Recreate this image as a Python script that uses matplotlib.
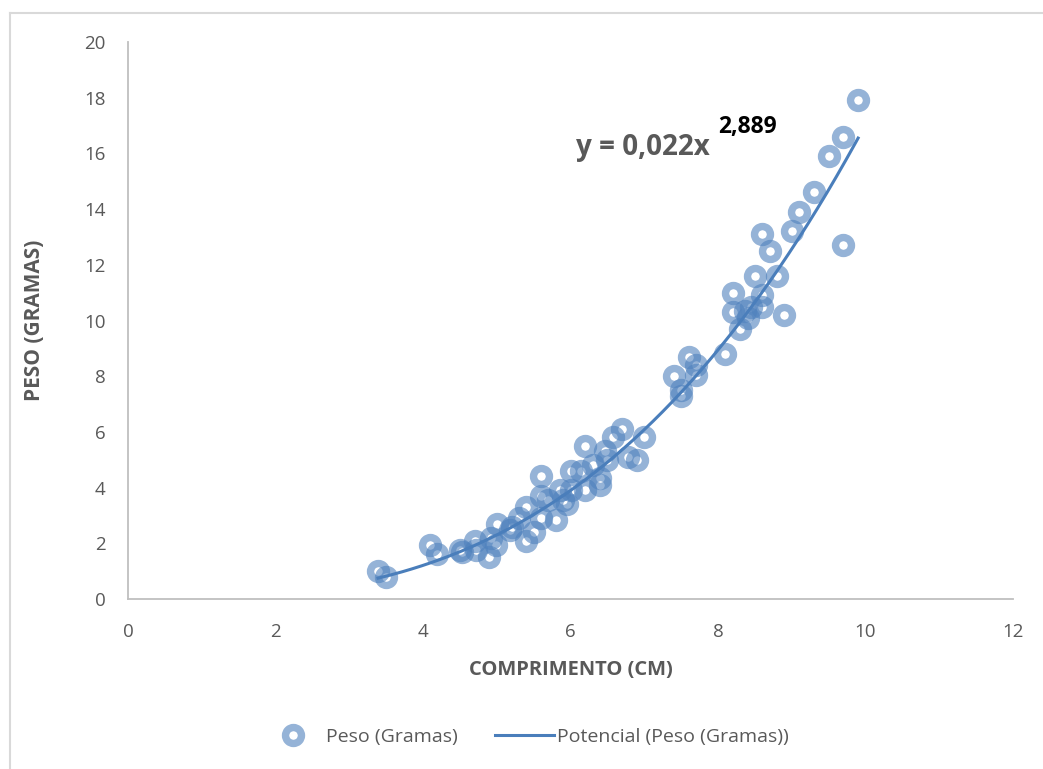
import numpy as np
import matplotlib
matplotlib.use("Agg")
import matplotlib.pyplot as plt
from matplotlib.lines import Line2D

#Data
comprimento = [3.39, 3.50, 4.10, 4.19, 4.50, 4.53, 4.70, 4.72, 4.90, 4.92, 4.99, 5.00,
               5.18, 5.20, 5.30, 5.40, 5.40, 5.50, 5.60, 5.60, 5.60, 5.70, 5.80, 5.86,
               5.90, 5.95, 6.00, 6.00, 6.14, 6.20, 6.20, 6.30, 6.40, 6.40, 6.47, 6.50,
               6.57, 6.70, 6.78, 6.90, 7.00, 7.40, 7.50, 7.50, 7.60, 7.70, 7.70, 8.10,
               8.20, 8.20, 8.30, 8.37, 8.40, 8.45, 8.50, 8.60, 8.60, 8.60, 8.70, 8.80,
               8.90, 9.00, 9.10, 9.30, 9.50, 9.70, 9.70, 9.90]
peso = [1.00, 0.79, 1.94, 1.60, 1.76, 1.70, 2.08, 1.76, 1.50, 2.20, 1.94, 2.70,
        2.48, 2.60, 2.90, 3.30, 2.10, 2.40, 3.70, 4.40, 2.90, 3.55, 2.85, 3.90,
        3.55, 3.40, 4.60, 3.90, 4.60, 5.50, 3.90, 4.80, 4.10, 4.35, 5.30, 5.00,
        5.80, 6.10, 5.10, 5.00, 5.80, 8.00, 7.30, 7.50, 8.70, 8.05, 8.40, 8.80,
        11.00, 10.30, 9.70, 10.35, 10.10, 10.50, 11.60, 10.50, 10.90, 13.10, 12.50, 11.60,
        10.20, 13.20, 13.90, 14.60, 15.90, 16.60, 12.70, 17.90]

#trendline coefficients (power fit shown on the chart)
a = 0.022
b = 2.889

grey = "#595959"
ring = "#4f81bd"
plt.rcParams['font.family'] = ['Open Sans', 'DejaVu Sans']

fig = plt.figure(figsize=(10.43, 7.69), dpi=100)
ax = fig.add_axes([128/1043, 1-599/769, (1013-128)/1043, (599-42)/769])

ax.plot(comprimento, peso, linestyle='none', marker='o', markersize=11.5,
        markerfacecolor='none', markeredgecolor=ring, markeredgewidth=5.3,
        alpha=0.6, label='Peso (Gramas)', zorder=2)

xs = np.linspace(min(comprimento), max(comprimento), 200)
ax.plot(xs, a*xs**b, color="#4a7ebb", lw=2.2, label='Potencial (Peso (Gramas))', zorder=3)

ax.set_xlim(0, 12)
ax.set_ylim(0, 20)
ax.set_xticks(range(0, 13, 2))
ax.set_yticks(range(0, 21, 2))
for s in ['top', 'right']:
    ax.spines[s].set_visible(False)
for s in ['left', 'bottom']:
    ax.spines[s].set_color("#bfbfbf")
    ax.spines[s].set_linewidth(1.3)
ax.tick_params(length=0, labelsize=13.5, labelcolor=grey)
ax.tick_params(axis='x', pad=17)
ax.tick_params(axis='y', pad=16)

ax.set_xlabel('COMPRIMENTO (CM)', fontsize=14.5, fontweight='bold', color=grey, labelpad=14)
ax.set_ylabel('PESO (GRAMAS)', fontsize=15, fontweight='bold', color=grey, labelpad=28)

#equation label
ax.text(6.08, 15.95, 'y = 0,022x', fontsize=20, fontweight='bold', color=grey)
ax.text(8.0, 16.75, '2,889', fontsize=16.5, fontweight='bold', color='black')

leg = fig.legend(loc='center', bbox_to_anchor=(0.505, 1-737/769), ncol=2, frameon=False,
                 fontsize=14, columnspacing=1.9, handlelength=3.0, handletextpad=0.2)
for t in leg.get_texts():
    t.set_color(grey)

#outer chart border
fig.add_artist(Line2D([10/1043, 10/1043], [0, 1-13/769], color="#d9d9d9", lw=1.5))
fig.add_artist(Line2D([10/1043, 1], [1-13/769, 1-13/769], color="#d9d9d9", lw=1.5))

fig.savefig("out.png", dpi=100)
